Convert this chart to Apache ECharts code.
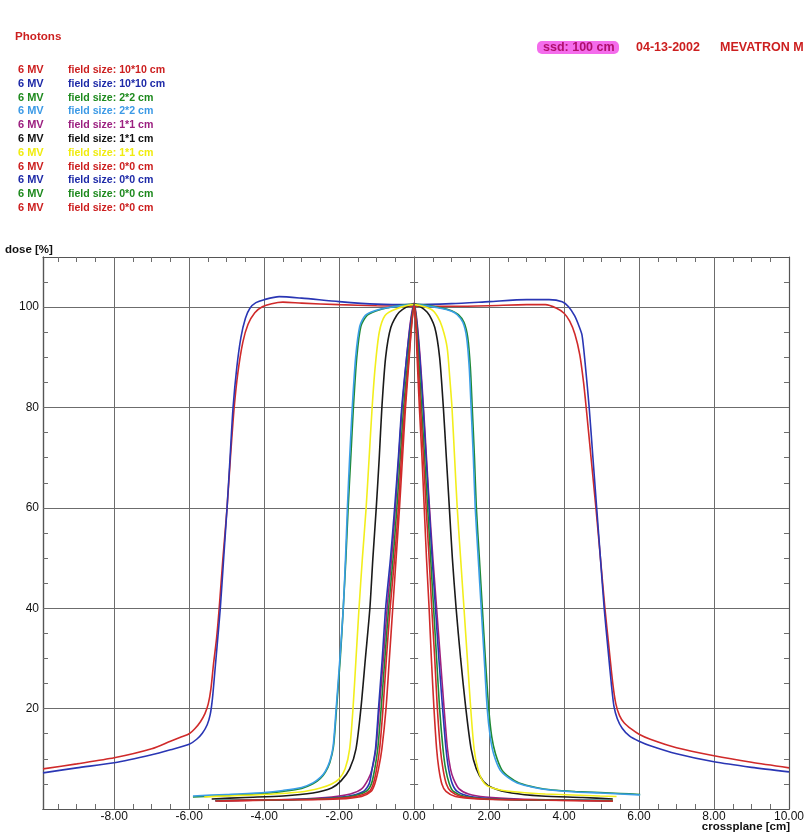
<!DOCTYPE html>
<html><head><meta charset="utf-8">
<script src="https://cdn.jsdelivr.net/npm/echarts@6/dist/echarts.min.js"></script>
<style>html,body{margin:0;padding:0;background:#fff}#c{width:807px;height:834px}</style>
</head><body><div id="c"></div>
<script>
// ---- legend / header text ----
const headerTitle = 'Photons';
const legendEnergy = ['6 MV','6 MV','6 MV','6 MV','6 MV','6 MV','6 MV','6 MV','6 MV','6 MV','6 MV'];
const legendField = ['field size: 10*10 cm','field size: 10*10 cm','field size: 2*2 cm','field size: 2*2 cm','field size: 1*1 cm','field size: 1*1 cm','field size: 1*1 cm','field size: 0*0 cm','field size: 0*0 cm','field size: 0*0 cm','field size: 0*0 cm'];
const seriesColors = ['#d02a2a','#2a36b4','#1f8a35','#3a9ee6','#a0207e','#1a1a1a','#f2ee1c','#d02a2a','#2a36b4','#1f8a35','#d02a2a'];
const textColors = ['#cc1f1f','#1e2aa8','#1e8a1e','#3c9ae6','#9c2080','#111111','#f0ec10','#cc1f1f','#1e2aa8','#1e8a1e','#cc1f1f'];
const headerRight = ['ssd: 100 cm','04-13-2002','MEVATRON M'];
const yAxisTitle = 'dose [%]';
const xAxisTitle = 'crossplane [cm]';

// ---- tick labels ----
const xTickValues = [-8,-6,-4,-2,0,2,4,6,8,10];
const yTickValues = [20,40,60,80,100];

// ---- measured profiles [cm, %] ----
const red10 = [[-9.9,8.0],[-9,9.0],[-8,10.2],[-7,12.0],[-6.5,13.5],[-6.2,14.4],[-6,15.0],[-5.85,16.0],[-5.7,17.4],[-5.58,19.0],[-5.49,21],[-5.42,24],[-5.35,29],[-5.27,34],[-5.2,40],[-5.1,50],[-4.99,60],[-4.9,70],[-4.8,80],[-4.7,87],[-4.57,93],[-4.43,96.6],[-4.25,98.9],[-4.05,100.1],[-3.8,100.7],[-3.5,101.0],[-3,100.8],[-2,100.5],[-1,100.3],[0,100.2],[1,100.2],[2,100.3],[3,100.5],[3.5,100.5],[3.8,99.8],[4.0,98.8],[4.15,97.2],[4.29,94.6],[4.42,90.5],[4.52,85],[4.59,80],[4.72,70],[4.85,60],[4.97,50],[5.09,40],[5.2,32],[5.3,25],[5.38,21],[5.48,18.6],[5.6,17.2],[5.8,15.9],[6,14.9],[6.3,13.9],[7,12.2],[8,10.6],[9,9.3],[10,8.2]];
const blue10 = [[-9.9,7.2],[-9,8.2],[-8,9.2],[-7,10.8],[-6.5,11.8],[-6,12.9],[-5.8,13.9],[-5.65,15.1],[-5.52,16.8],[-5.44,18.8],[-5.38,22],[-5.32,27],[-5.25,33],[-5.17,40],[-5.08,50],[-4.99,60],[-4.91,70],[-4.83,80],[-4.73,88],[-4.62,94],[-4.5,97.8],[-4.38,99.8],[-4.22,100.9],[-4.0,101.5],[-3.6,102.1],[-3,101.8],[-2,101.1],[-1,100.6],[0,100.5],[1,100.7],[2,101.1],[3,101.5],[3.6,101.5],[3.95,101.1],[4.12,100.1],[4.28,98.3],[4.4,96.2],[4.48,94.4],[4.56,89],[4.67,80],[4.77,70],[4.87,60],[4.97,50],[5.07,40],[5.17,32],[5.26,25],[5.33,20.5],[5.42,18],[5.55,16.1],[5.75,14.5],[6,13.5],[6.3,12.6],[7,11.0],[8,9.4],[9,8.3],[10,7.4]];
const green2 = [[-5.9,2.4],[-5,2.7],[-4,3.1],[-3.5,3.5],[-3,4.1],[-2.7,5.0],[-2.5,6.1],[-2.37,7.3],[-2.25,9.2],[-2.15,12.5],[-2.07,20],[-1.97,30],[-1.89,40],[-1.82,50],[-1.76,60],[-1.69,70],[-1.62,80],[-1.53,90],[-1.42,96.2],[-1.25,98.4],[-1.0,99.3],[-0.7,99.9],[0,100.6],[0.7,99.9],[1.0,99.3],[1.18,98.5],[1.33,97],[1.43,94],[1.5,88],[1.55,80],[1.61,70],[1.66,60],[1.74,50],[1.82,40],[1.9,30],[1.99,20],[2.07,14.4],[2.17,11],[2.34,7.8],[2.55,6.3],[2.8,5.2],[3.25,4.3],[3.7,3.8],[4.3,3.5],[4.96,3.3],[5.5,3.1],[6.03,2.9]];
const lblue2 = [[-5.9,2.6],[-5,2.9],[-4,3.3],[-3.5,3.7],[-3,4.3],[-2.7,5.2],[-2.5,6.3],[-2.37,7.5],[-2.25,9.5],[-2.16,12.5],[-2.08,20],[-1.98,30],[-1.89,40],[-1.83,50],[-1.78,60],[-1.72,70],[-1.65,80],[-1.56,90],[-1.45,96.2],[-1.3,98.4],[-1.05,99.3],[-0.72,99.9],[0,100.5],[0.7,99.8],[1.0,99.2],[1.15,98.5],[1.3,97],[1.4,94],[1.47,88],[1.52,80],[1.58,70],[1.63,60],[1.71,50],[1.79,40],[1.87,30],[1.95,20],[2.03,14.4],[2.12,11],[2.29,7.8],[2.5,6.3],[2.75,5.2],[3.2,4.3],[3.63,3.8],[4.3,3.4],[4.96,3.2],[5.5,3.0],[6.03,2.8]];
const purple1 = [[-5.3,1.6],[-4,1.8],[-3,2.0],[-2.2,2.4],[-1.7,3],[-1.4,4],[-1.22,6],[-1.12,8],[-1.02,12],[-0.93,20],[-0.82,30],[-0.72,40],[-0.6,50],[-0.5,60],[-0.41,70],[-0.32,80],[-0.2,90],[-0.1,97],[0,100.8],[0.08,97],[0.16,90],[0.25,80],[0.33,70],[0.41,60],[0.5,50],[0.6,40],[0.7,30],[0.8,20],[0.89,12],[0.97,8],[1.05,6],[1.2,4],[1.45,3],[1.9,2.4],[2.8,2.0],[4,1.8],[5.3,1.6]];
const black1 = [[-5.4,2.0],[-4.5,2.3],[-3.5,2.6],[-2.7,3.2],[-2.2,4.2],[-1.95,5.6],[-1.72,8],[-1.55,12],[-1.42,20],[-1.3,30],[-1.18,40],[-1.1,50],[-1.01,60],[-0.93,70],[-0.86,80],[-0.76,90],[-0.62,96],[-0.4,99],[0,100.6],[0.35,99],[0.55,96],[0.68,90],[0.78,80],[0.86,70],[0.94,60],[1.02,50],[1.12,40],[1.24,30],[1.38,20],[1.52,12],[1.66,8],[1.85,5.5],[2.1,4.2],[2.6,3.2],[3.4,2.6],[4.5,2.3],[5.3,2.0]];
const yellow1 = [[-5.6,2.4],[-5,2.6],[-4,2.9],[-3.04,3.4],[-2.5,4.2],[-2.2,5.0],[-2.0,6.0],[-1.84,8],[-1.72,12],[-1.63,20],[-1.55,30],[-1.47,40],[-1.38,50],[-1.28,60],[-1.2,70],[-1.12,80],[-1.04,88],[-0.93,95],[-0.78,98.3],[-0.5,99.6],[0,100.5],[0.45,99.6],[0.62,98.2],[0.75,96],[0.88,92],[0.95,86],[1.01,80],[1.08,70],[1.15,60],[1.24,50],[1.33,40],[1.42,30],[1.51,20],[1.6,12],[1.7,8],[1.81,5.8],[1.95,4.6],[2.3,3.8],[2.75,3.4],[3.5,3.0],[4.96,2.6],[5.4,2.5]];
const red0a = [[-5.2,1.6],[-3.5,1.8],[-2,2.0],[-1.4,2.5],[-1.15,3.5],[-1.05,5],[-0.95,8],[-0.86,12],[-0.75,20],[-0.66,30],[-0.57,40],[-0.48,50],[-0.39,60],[-0.31,70],[-0.23,80],[-0.13,90],[-0.06,97],[0,100.3],[0.04,97],[0.08,90],[0.14,80],[0.21,70],[0.27,60],[0.33,50],[0.4,40],[0.46,30],[0.53,20],[0.6,12],[0.66,8],[0.74,5],[0.85,3.5],[1.1,2.5],[1.7,2.0],[3,1.8],[5.3,1.6]];
const blue0 = [[-5.3,1.7],[-4,1.8],[-2.8,2.0],[-1.8,2.5],[-1.35,3.5],[-1.2,5],[-1.12,8],[-1.03,12],[-0.95,20],[-0.85,30],[-0.76,40],[-0.63,50],[-0.52,60],[-0.42,70],[-0.33,80],[-0.2,90],[-0.09,97],[0,100.5],[0.07,97],[0.15,90],[0.24,80],[0.32,70],[0.4,60],[0.48,50],[0.57,40],[0.66,30],[0.76,20],[0.85,12],[0.92,8],[1.02,5],[1.15,3.5],[1.5,2.5],[2.3,2.0],[3.5,1.8],[5.2,1.7]];
const green0 = [[-5.3,1.7],[-4,1.8],[-2.6,2.0],[-1.7,2.5],[-1.28,3.5],[-1.14,5],[-1.05,8],[-0.97,12],[-0.88,20],[-0.78,30],[-0.68,40],[-0.56,50],[-0.46,60],[-0.37,70],[-0.28,80],[-0.16,90],[-0.07,97],[0,100.5],[0.06,97],[0.12,90],[0.2,80],[0.28,70],[0.36,60],[0.44,50],[0.52,40],[0.6,30],[0.68,20],[0.77,12],[0.84,8],[0.94,5],[1.05,3.5],[1.35,2.5],[2,2.0],[3.5,1.8],[5.3,1.7]];
const red0b = [[-5.3,1.6],[-4,1.8],[-2.4,2.0],[-1.55,2.5],[-1.2,3.5],[-1.09,5],[-1.0,8],[-0.92,12],[-0.83,20],[-0.74,30],[-0.64,40],[-0.52,50],[-0.42,60],[-0.34,70],[-0.25,80],[-0.14,90],[-0.06,97],[0,100.4],[0.05,97],[0.1,90],[0.17,80],[0.25,70],[0.32,60],[0.4,50],[0.47,40],[0.55,30],[0.62,20],[0.7,12],[0.77,8],[0.86,5],[0.98,3.5],[1.25,2.5],[1.9,2.0],[3.3,1.8],[5.3,1.6]];

const profiles = [red10, blue10, green2, lblue2, purple1, black1, yellow1, red0a, blue0, green0, red0b];

// ---- build chart ----
const X_MIN = -9.9, X_MAX = 10, Y_MIN = 0, Y_MAX = 110;
const xMinor = []; for (let v = -9.5; v < 10; v += 0.5) xMinor.push(+v.toFixed(1));
const yMinor = []; for (let v = 5; v < 110; v += 5) yMinor.push(v);
const gridColor = '#6c6c6c';
const FONT = '"Liberation Sans", Arial, sans-serif';

const chart = echarts.init(document.getElementById('c'), null, {renderer: 'canvas'});

const graphics = [];
graphics.push({type:'text', x:15, y:37, style:{text:headerTitle, fill:'#cc1f1f', font:'bold 11.6px ' + FONT, verticalAlign:'middle'}});
legendEnergy.forEach((t, i) => {
  const yy = 70 + i * 13.8;
  graphics.push({type:'text', x:18, y:yy, style:{text:t, fill:textColors[i], font:'bold 11px ' + FONT, verticalAlign:'middle'}});
  graphics.push({type:'text', x:68, y:yy, style:{text:legendField[i], fill:textColors[i], font:'bold 10.6px ' + FONT, verticalAlign:'middle'}});
});
graphics.push({type:'rect', shape:{x:537, y:41, width:82, height:13, r:5}, style:{fill:'#f46cec'}});
graphics.push({type:'text', x:543, y:47.5, style:{text:headerRight[0], fill:'#b0106e', font:'bold 12.5px ' + FONT, verticalAlign:'middle'}});
graphics.push({type:'text', x:636, y:47.5, style:{text:headerRight[1], fill:'#cc1f1f', font:'bold 12.5px ' + FONT, verticalAlign:'middle'}});
graphics.push({type:'text', x:720, y:47.5, style:{text:headerRight[2], fill:'#cc1f1f', font:'bold 12.5px ' + FONT, verticalAlign:'middle'}});
graphics.push({type:'text', x:5, y:250, style:{text:yAxisTitle, fill:'#111', font:'bold 11.5px ' + FONT, verticalAlign:'middle'}});
graphics.push({type:'text', x:790, y:827, style:{text:xAxisTitle, fill:'#111', font:'bold 11.5px ' + FONT, verticalAlign:'middle', align:'right'}});

const tickStyle = {color: gridColor, width: 1};
const axisLineStyle = {color: '#555', width: 1.2};
const noSplit = {show:false};

// helper for tick-only axes (same scale as the main axes)
function tickAxisX(pos) {
  return {type:'value', min:X_MIN, max:X_MAX, splitNumber:10, position:pos,
    axisLine:{onZero:false, lineStyle:axisLineStyle},
    axisTick:{show:true, inside:true, length:5, customValues:xMinor, lineStyle:tickStyle},
    axisLabel:{show:false}, splitLine:noSplit};
}
function tickAxisY(pos, inside, len, onZero) {
  return {type:'value', min:Y_MIN, max:Y_MAX, interval:20, position:pos,
    axisLine: onZero ? {show:true, onZero:true, onZeroAxisIndex:0, lineStyle:{color:gridColor, width:1}}
                     : {onZero:false, lineStyle:axisLineStyle},
    axisTick:{show:true, inside:inside, length:len, customValues:yMinor, lineStyle:tickStyle},
    axisLabel:{show:false}, splitLine:noSplit};
}

const option = {
  backgroundColor: '#fff',
  animation: false,
  grid: {left: 43, right: 17, top: 257, bottom: 25, containLabel: false},
  xAxis: [
    {type:'value', min:X_MIN, max:X_MAX, splitNumber:10, position:'bottom',
     axisLine:{onZero:false, lineStyle:axisLineStyle},
     axisTick:{show:false},
     axisLabel:{customValues:xTickValues, formatter:(v)=>Number(v).toFixed(2), color:'#111', fontSize:12, fontFamily:FONT, margin:2},
     splitLine:{show:true, lineStyle:{color:gridColor, width:1}}},
    tickAxisX('top'),
    tickAxisX('bottom')
  ],
  yAxis: [
    {type:'value', min:Y_MIN, max:Y_MAX, interval:20, position:'left',
     axisLine:{onZero:false, lineStyle:axisLineStyle},
     axisTick:{show:false},
     axisLabel:{customValues:yTickValues, color:'#111', fontSize:12, fontFamily:FONT, margin:4},
     splitLine:{show:true, lineStyle:{color:gridColor, width:1}}},
    tickAxisY('right', true, 5, false),
    tickAxisY('left', true, 5, false),
    tickAxisY('left', true, 4, true),
    tickAxisY('left', false, 4, true)
  ],
  graphic: graphics,
  series: profiles.map((d, i) => ({
    type:'line', name: legendField[i] + ' #' + i, data: d, xAxisIndex:0, yAxisIndex:0,
    showSymbol:false, smooth:0.25, clip:true,
    lineStyle:{color:seriesColors[i], width:1.6}, itemStyle:{color:seriesColors[i]}
  }))
};
chart.setOption(option);
</script></body></html>
